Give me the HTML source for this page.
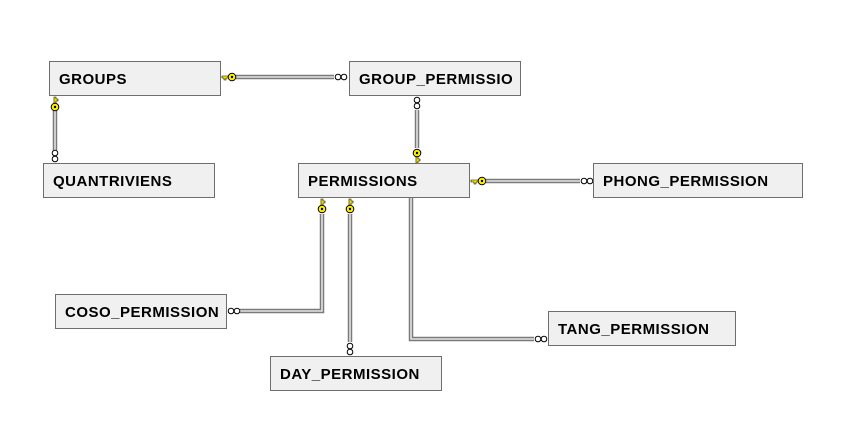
<!DOCTYPE html>
<html><head><meta charset="utf-8"><style>
html,body{margin:0;padding:0;background:#fff;width:848px;height:436px;overflow:hidden}
svg{display:block}
text{font-family:"Liberation Sans",sans-serif;font-weight:bold;font-size:15px;letter-spacing:.5px;fill:#000}
</style></head><body>
<svg width="848" height="436" viewBox="0 0 848 436">
<defs>
<g id="ko"><circle cx="0" cy="0" r="3.8" fill="#ffef00" stroke="#000" stroke-width="1"/><circle cx="0" cy="0" r="1.2" fill="#000"/></g>
<g id="cc"><circle cx="0" cy="0" r="2.8" fill="#fff" stroke="#000" stroke-width="1"/></g>
</defs>
<g fill="none" stroke-linejoin="miter">
<g stroke="#7a7a7a" stroke-width="4.5">
<path d="M236 77H334"/>
<path d="M55 110V150"/>
<path d="M417 110V148"/>
<path d="M486 181H580"/>
<path d="M322 214V311H240"/>
<path d="M350 214V342"/>
<path d="M411 197V339H534"/>
</g>
<g stroke="#e4e4e4" stroke-width="1.6">
<path d="M236 77H334"/>
<path d="M55 110V150"/>
<path d="M417 110V148"/>
<path d="M486 181H580"/>
<path d="M322 214V311H240"/>
<path d="M350 214V342"/>
<path d="M411 197V339H534"/>
</g>
</g>
<g>
<use href="#ko" x="232" y="77"/><path d="M222 76h6v2h-2v2h-2v-2h-2z" fill="#ffef00" stroke="#000" stroke-width=".6"/>
<use href="#ko" x="55" y="107"/><path d="M54 97v6h2v-2h2v-2h-2v-2z" fill="#ffef00" stroke="#000" stroke-width=".6"/>
<use href="#ko" x="417" y="153"/><path d="M416 157v6h2v-2h2v-2h-2v-2z" fill="#ffef00" stroke="#000" stroke-width=".6"/>
<use href="#ko" x="482" y="181"/><path d="M471 180h7v2h-2v2h-2v-2h-3z" fill="#ffef00" stroke="#000" stroke-width=".6"/>
<use href="#ko" x="322" y="209"/><path d="M321 199v6h2v-2h2v-2h-2v-2z" fill="#ffef00" stroke="#000" stroke-width=".6"/>
<use href="#ko" x="350" y="209"/><path d="M349 199v6h2v-2h2v-2h-2v-2z" fill="#ffef00" stroke="#000" stroke-width=".6"/>
</g>
<g>
<use href="#cc" x="338" y="77"/><use href="#cc" x="344" y="77"/>
<use href="#cc" x="55" y="153"/><use href="#cc" x="55" y="159"/>
<use href="#cc" x="417" y="100"/><use href="#cc" x="417" y="106"/>
<use href="#cc" x="584" y="181"/><use href="#cc" x="590" y="181"/>
<use href="#cc" x="231" y="311"/><use href="#cc" x="237" y="311"/>
<use href="#cc" x="350" y="346"/><use href="#cc" x="350" y="352"/>
<use href="#cc" x="538" y="339"/><use href="#cc" x="544" y="339"/>
</g>
<g fill="#f0f0f0" stroke="#6e6e6e" stroke-width="1">
<rect x="49.5" y="61.5" width="171" height="34"/>
<rect x="349.5" y="61.5" width="171" height="34"/>
<rect x="43.5" y="163.5" width="171" height="34"/>
<rect x="298.5" y="163.5" width="171" height="34"/>
<rect x="593.5" y="163.5" width="209" height="34"/>
<rect x="55.5" y="294.5" width="171" height="34"/>
<rect x="548.5" y="311.5" width="187" height="34"/>
<rect x="270.5" y="356.5" width="171" height="34"/>
</g>
<text x="59" y="84">GROUPS</text>
<text x="359" y="84">GROUP_PERMISSIO</text>
<text x="53" y="186">QUANTRIVIENS</text>
<text x="308" y="186">PERMISSIONS</text>
<text x="603" y="186">PHONG_PERMISSION</text>
<text x="65" y="317">COSO_PERMISSION</text>
<text x="558" y="334">TANG_PERMISSION</text>
<text x="280" y="379">DAY_PERMISSION</text>
</svg>
</body></html>
